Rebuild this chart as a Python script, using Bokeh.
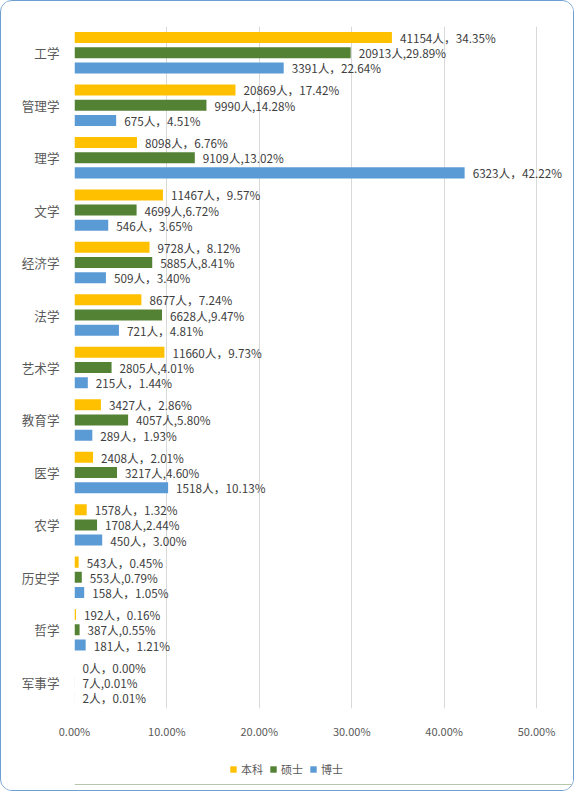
from bokeh.plotting import figure
from bokeh.layouts import column
from bokeh.models import Range1d, FixedTicker, Legend, LegendItem, ColumnDataSource
from bokeh.embed import file_html
from bokeh.resources import INLINE
from bokeh.core.properties import value

categories = ["工学", "管理学", "理学", "文学", "经济学", "法学", "艺术学",
              "教育学", "医学", "农学", "历史学", "哲学", "军事学"]
ben_count = [41154, 20869, 8098, 11467, 9728, 8677, 11660, 3427, 2408, 1578, 543, 192, 0]
ben_pct = [34.35, 17.42, 6.76, 9.57, 8.12, 7.24, 9.73, 2.86, 2.01, 1.32, 0.45, 0.16, 0.00]
shuo_count = [20913, 9990, 9109, 4699, 5885, 6628, 2805, 4057, 3217, 1708, 553, 387, 7]
shuo_pct = [29.89, 14.28, 13.02, 6.72, 8.41, 9.47, 4.01, 5.80, 4.60, 2.44, 0.79, 0.55, 0.01]
bo_count = [3391, 675, 6323, 546, 509, 721, 215, 289, 1518, 450, 158, 181, 2]
bo_pct = [22.64, 4.51, 42.22, 3.65, 3.40, 4.81, 1.44, 1.93, 10.13, 3.00, 1.05, 1.21, 0.01]
series_names = ["本科", "硕士", "博士"]
x_ticks = [0, 10, 20, 30, 40, 50]
x_tick_labels = ["0.00%", "10.00%", "20.00%", "30.00%", "40.00%", "50.00%"]

colors = ["#FFC000", "#548235", "#5B9BD5"]
offsets = [-0.29, 0.0, 0.29]
bar_h = 0.21
FONT = "Noto Sans CJK SC"

p = figure(width=572, height=752, output_backend="svg", toolbar_location=None,
           x_range=Range1d(0, 54.0), y_range=Range1d(12.5, -0.5),
           min_border_left=73, min_border_right=0, min_border_top=25,
           min_border_bottom=45)
p.outline_line_color = None
p.background_fill_color = "white"
p.border_fill_color = "white"

idx = list(range(len(categories)))
series = [
    (ben_count, ben_pct, lambda c, v: f"{c}人，{v:.2f}%"),
    (shuo_count, shuo_pct, lambda c, v: f"{c}人,{v:.2f}%"),
    (bo_count, bo_pct, lambda c, v: f"{c}人，{v:.2f}%"),
]
for k, (cnt, pct, fmt) in enumerate(series):
    src = ColumnDataSource(dict(
        y=[i + offsets[k] for i in idx],
        x=pct,
        label=[fmt(c, v) for c, v in zip(cnt, pct)],
    ))
    p.hbar(y="y", left=0, right="x", height=bar_h, source=src,
           fill_color=colors[k], line_color=None)
    p.text(x="x", y="y", text="label", source=src, x_offset=8,
           text_baseline="middle", text_align="left",
           text_font=value(FONT), text_font_size="11.7px",
           text_color="#404040")

# x axis
p.xaxis.ticker = FixedTicker(ticks=x_ticks)
p.xaxis.major_label_overrides = {t: l for t, l in zip(x_ticks, x_tick_labels)}
p.xaxis.axis_line_color = None
p.xaxis.major_tick_line_color = None
p.xaxis.minor_tick_line_color = None
p.xaxis.major_label_text_font = FONT
p.xaxis.major_label_text_font_size = "11px"
p.xaxis.major_label_text_color = "#595959"
p.xaxis.major_label_standoff = 8

# y axis
p.yaxis.ticker = FixedTicker(ticks=idx)
p.yaxis.major_label_overrides = {i: c for i, c in zip(idx, categories)}
p.yaxis.axis_line_color = None
p.yaxis.major_tick_line_color = None
p.yaxis.minor_tick_line_color = None
p.yaxis.major_label_text_font = FONT
p.yaxis.major_label_text_font_size = "12.6px"
p.yaxis.major_label_text_color = "#595959"
p.yaxis.major_label_standoff = 9

p.xgrid.grid_line_color = "#D9D9D9"
p.ygrid.grid_line_color = None

# legend strip (its proxy glyphs sit outside the visible range)
lg = figure(width=572, height=37, output_backend="svg", toolbar_location=None,
            x_range=Range1d(0, 1), y_range=Range1d(0, 1),
            x_axis_location=None, y_axis_location=None,
            min_border_left=73, min_border_right=0, min_border_top=0,
            min_border_bottom=6)
lg.grid.visible = False
lg.outline_line_color = None
lg.border_fill_color = "white"
leg_renderers = [lg.hbar(y=[-10], left=[0], right=[1], height=0.5,
                         fill_color=c, line_color=None)
                 for c in colors]
legend = Legend(items=[LegendItem(label=n, renderers=[r]) for n, r in zip(series_names, leg_renderers)],
                orientation="horizontal", location=(155, 7),
                glyph_width=8, glyph_height=8, label_standoff=4, spacing=6,
                label_text_font=FONT, label_text_font_size="11px",
                label_text_color="#595959", border_line_color=None,
                background_fill_alpha=0, padding=2, margin=0)
lg.add_layout(legend, "center")

layout = column(p, lg, spacing=0)
layout.styles = {"border": "1px solid #6E9FD2", "border-radius": "12px", "overflow": "hidden"}

open("out.html", "w").write(file_html(layout, INLINE))
